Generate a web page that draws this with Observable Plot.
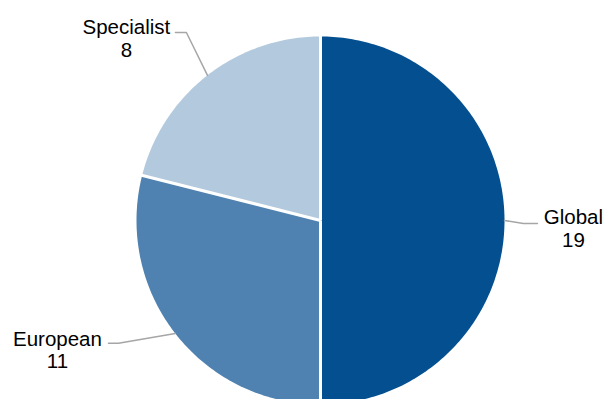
<!DOCTYPE html>
<html>
<head>
<meta charset="utf-8">
<script src="https://cdn.jsdelivr.net/npm/d3@7"></script>
<script src="https://cdn.jsdelivr.net/npm/@observablehq/plot@0.6"></script>
<style>
  html, body { margin: 0; padding: 0; background: #fff; }
  #chart svg { display: block; }
</style>
</head>
<body>
<div id="chart"></div>
<script>
// ---- data ----
const categories = ["Global", "European", "Specialist"];
const values = [19, 11, 8];
const colors = ["#034F8F", "#4F82B0", "#B3C9DD"];

// ---- layout (pixels / degrees) ----
const W = 605, H = 399;
const CX = 320, CY = 220, R = 184;
// leader-line elbows (polar, relative to pie) and text offsets
const labelLayout = {
  Global:     {elbowAngle: 90.85, elbowR: 1.103, hLen: 14,  tdx: 36,  tdy: 4.6},
  European:   {elbowAngle: 238.7, elbowR: 1.285, hLen: -10, tdx: -51, tdy: 6.5},
  Specialist: {elbowAngle: 324.5, elbowR: 1.255, hLen: -11, tdx: -49, tdy: 5.6}
};

const pie = d3.pie().sort(null).value(d => d.value)(
  categories.map((name, i) => ({name, value: values[i]}))
);

// polygon points for each slice in unit-circle data space (y up)
const N = 360;
const slicePts = [];
for (const a of pie) {
  slicePts.push({name: a.data.name, x: 0, y: 0});
  const steps = Math.max(2, Math.ceil((a.endAngle - a.startAngle) / (2 * Math.PI) * N));
  for (let k = 0; k <= steps; k++) {
    const t = a.startAngle + (a.endAngle - a.startAngle) * k / steps;
    slicePts.push({name: a.data.name, x: Math.sin(t), y: Math.cos(t)});
  }
  slicePts.push({name: a.data.name, x: 0, y: 0});
}

// white separators at each slice boundary
const seps = pie.map(a => ({x1: 0, y1: 0, x2: 1.02 * Math.sin(a.startAngle), y2: 1.02 * Math.cos(a.startAngle)}));

// leader lines and labels
const u = px => px / R;
const leaders = [];
const labels = [];
for (const a of pie) {
  const name = a.data.name;
  const L = labelLayout[name];
  const mid = (a.startAngle + a.endAngle) / 2;
  const p0 = {x: Math.sin(mid), y: Math.cos(mid)};
  const ea = L.elbowAngle * Math.PI / 180;
  const p1 = {x: L.elbowR * Math.sin(ea), y: L.elbowR * Math.cos(ea)};
  const p2 = {x: p1.x + u(L.hLen), y: p1.y};
  leaders.push({name, ...p0}, {name, ...p1}, {name, ...p2});
  labels.push({name, text: name + "\n" + a.data.value, x: p2.x + u(L.tdx), y: p2.y - u(L.tdy)});
}

const chart = Plot.plot({
  width: W,
  height: H,
  marginTop: 0, marginRight: 0, marginBottom: 0, marginLeft: 0,
  x: {domain: [-CX / R, (W - CX) / R], axis: null},
  y: {domain: [-(H - CY) / R, CY / R], axis: null},
  color: {domain: categories, range: colors},
  style: {background: "#fff"},
  marks: [
    Plot.line(slicePts, {x: "x", y: "y", z: "name", fill: "name", stroke: "none", curve: "linear"}),
    Plot.link(seps, {x1: "x1", y1: "y1", x2: "x2", y2: "y2", stroke: "#fff", strokeWidth: 3}),
    Plot.line(leaders, {x: "x", y: "y", z: "name", stroke: "#A6A6A6", strokeWidth: 1.5}),
    Plot.text(labels, {x: "x", y: "y", text: "text", textAnchor: "middle", lineAnchor: "middle",
      lineHeight: 1.1, fontSize: 20.5, fill: "#000", fontFamily: "Liberation Sans, Arial, sans-serif"})
  ]
});
document.getElementById("chart").appendChild(chart);
</script>
</body>
</html>
